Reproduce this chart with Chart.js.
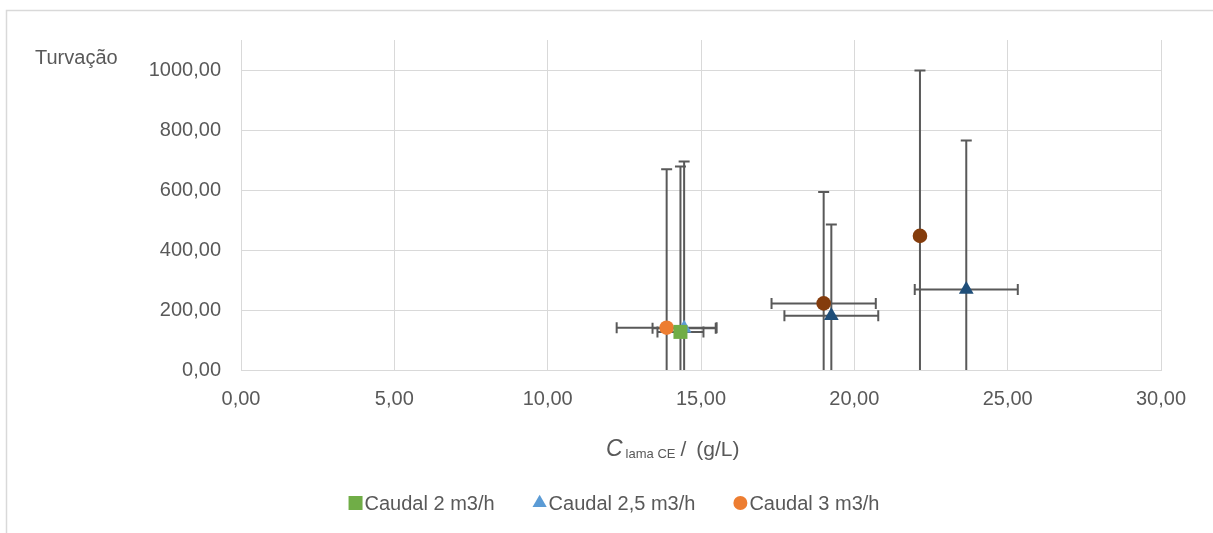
<!DOCTYPE html>
<html>
<head>
<meta charset="utf-8">
<script src="https://cdn.jsdelivr.net/npm/chart.js@4.4.1/dist/chart.umd.min.js"></script>
<style>
  html, body { margin: 0; padding: 0; background: #fff; }
</style>
</head>
<body>
<canvas id="chart-turvacao" width="1213" height="533"></canvas>
<script>
// series shown in the legend
const seriesNames = ["Caudal 2 m3/h", "Caudal 2,5 m3/h", "Caudal 3 m3/h"];

// Caudal 2 m3/h
const caudal2X = [14.33];
const caudal2Y = [127];
const caudal2ErrX = [0.75];
const caudal2ErrY = [551];

// Caudal 2,5 m3/h (first point light, others dark)
const caudal25X = [14.45, 19.25, 23.65];
const caudal25Y = [139, 181, 268];
const caudal25ErrX = [1.03, 1.53, 1.68];
const caudal25ErrY = [556, 304, 497];

// Caudal 3 m3/h (first point light, others dark)
const caudal3X = [13.88, 19.0, 22.14];
const caudal3Y = [141, 222, 447];
const caudal3ErrX = [1.63, 1.7, 0];
const caudal3ErrY = [528, 371, 551];

const xTicks = [0, 5, 10, 15, 20, 25, 30];
const yTicks = [0, 200, 400, 600, 800, 1000];

const GREEN = "#70AD47";
const BLUE = "#5B9BD5";
const ORANGE = "#ED7D31";
const DARK_BLUE = "#1F4E79";
const BROWN = "#843C0C";
const TEXT = "#595959";
const GRID = "#d9d9d9";
const FONT = "'Liberation Sans', Arial, sans-serif";

const ctx = document.getElementById("chart-turvacao").getContext("2d");

function points(xs, ys) {
  return xs.map(function (x, i) {
    return { x: x, y: ys[i] };
  });
}

function fmt(value) {
  return Number(value).toFixed(2).replace(".", ",");
}

// error bars, drawn under the markers
const errorBars = {
  id: "errorBars",
  beforeDatasetsDraw(chart) {
    const { ctx, chartArea, scales } = chart;
    const cap = 5.5;
    ctx.save();
    ctx.beginPath();
    ctx.rect(chartArea.left, chartArea.top, chartArea.width, chartArea.height);
    ctx.clip();
    ctx.strokeStyle = TEXT;
    ctx.lineWidth = 2;
    chart.data.datasets.forEach(function (ds) {
      ds.data.forEach(function (p, i) {
        const px = scales.x.getPixelForValue(p.x);
        const py = scales.y.getPixelForValue(p.y);
        const ex = ds.errX[i];
        const ey = ds.errY[i];
        ctx.beginPath();
        if (ey) {
          const top = scales.y.getPixelForValue(p.y + ey);
          const bottom = scales.y.getPixelForValue(p.y - ey);
          ctx.moveTo(px, top);
          ctx.lineTo(px, bottom);
          ctx.moveTo(px - cap, top);
          ctx.lineTo(px + cap, top);
          ctx.moveTo(px - cap, bottom);
          ctx.lineTo(px + cap, bottom);
        }
        if (ex) {
          const left = scales.x.getPixelForValue(p.x - ex);
          const right = scales.x.getPixelForValue(p.x + ex);
          ctx.moveTo(left, py);
          ctx.lineTo(right, py);
          ctx.moveTo(left, py - cap);
          ctx.lineTo(left, py + cap);
          ctx.moveTo(right, py - cap);
          ctx.lineTo(right, py + cap);
        }
        ctx.stroke();
      });
    });
    ctx.restore();
  },
};

// frame, axis titles and legend
const decorations = {
  id: "decorations",
  beforeDraw(chart) {
    const c = chart.ctx;
    c.save();
    c.fillStyle = "#fff";
    c.fillRect(0, 0, chart.width, chart.height);
    c.strokeStyle = GRID;
    c.lineWidth = 1.5;
    c.beginPath();
    c.moveTo(6.5, chart.height);
    c.lineTo(6.5, 10.5);
    c.lineTo(chart.width, 10.5);
    c.stroke();
    c.restore();
  },
  afterDraw(chart) {
    const c = chart.ctx;
    c.save();
    c.fillStyle = TEXT;
    c.textBaseline = "alphabetic";
    c.textAlign = "left";

    // y title
    c.font = "20px " + FONT;
    c.fillText("Turvação", 35, 64);

    // x title: C lama CE / (g/L)
    let x = 606;
    const base = 456;
    c.font = "italic 23px " + FONT;
    c.fillText("C", x, base);
    x += c.measureText("C").width + 3;
    c.font = "13px " + FONT;
    c.fillText("lama CE", x, base + 2);
    x += c.measureText("lama CE").width + 5;
    c.font = "21px " + FONT;
    c.fillText("/", x, base);
    x += c.measureText("/").width + 10;
    c.fillText("(g/L)", x, base);

    // legend
    const items = [
      { text: seriesNames[0], style: "rect", radius: 9.9, color: GREEN },
      { text: seriesNames[1], style: "triangle", radius: 8.2, color: BLUE },
      { text: seriesNames[2], style: "circle", radius: 7, color: ORANGE },
    ];
    c.font = "20px " + FONT;
    const widths = items.map(function (it) {
      return 16 + c.measureText(it.text).width;
    });
    const gap = 38;
    const total = widths.reduce((a, b) => a + b, 0) + gap * (items.length - 1);
    let lx = 614 - total / 2;
    const ly = 503;
    items.forEach(function (it, i) {
      c.fillStyle = it.color;
      Chart.helpers.drawPoint(c, { pointStyle: it.style, radius: it.radius, rotation: 0, borderWidth: 0 }, lx + 7, ly);
      c.fillStyle = TEXT;
      c.textBaseline = "middle";
      c.fillText(it.text, lx + 16, ly + 1);
      lx += widths[i] + gap;
    });
    c.restore();
  },
};

function createChart() {
  return new Chart(ctx, {
    type: "scatter",
    data: {
      datasets: [
        {
          label: seriesNames[0],
          data: points(caudal2X, caudal2Y),
          errX: caudal2ErrX,
          errY: caudal2ErrY,
          pointStyle: "rect",
          pointRadius: 9.9,
          pointBackgroundColor: GREEN,
          pointBorderWidth: 0,
        },
        {
          label: seriesNames[1],
          data: points(caudal25X, caudal25Y),
          errX: caudal25ErrX,
          errY: caudal25ErrY,
          pointStyle: "triangle",
          pointRadius: 8.5,
          pointBackgroundColor: [BLUE, DARK_BLUE, DARK_BLUE],
          pointBorderWidth: 0,
        },
        {
          label: seriesNames[2],
          data: points(caudal3X, caudal3Y),
          errX: caudal3ErrX,
          errY: caudal3ErrY,
          pointStyle: "circle",
          pointRadius: 7.3,
          pointBackgroundColor: [ORANGE, BROWN, BROWN],
          pointBorderWidth: 0,
        },
      ],
    },
    options: {
      responsive: false,
      animation: false,
      devicePixelRatio: 1,
      layout: {
        padding: { left: 0, right: 52, top: 40, bottom: 0 },
      },
      plugins: {
        legend: { display: false },
        tooltip: { enabled: false },
      },
      scales: {
        x: {
          type: "linear",
          min: 0,
          max: 30,
          afterBuildTicks: (axis) => {
            axis.ticks = xTicks.map((v) => ({ value: v }));
          },
          afterFit: (axis) => {
            axis.height = 163;
          },
          ticks: {
            padding: 17,
            maxRotation: 0,
            autoSkip: false,
            callback: fmt,
          },
          grid: { color: GRID, drawTicks: false },
          border: { color: GRID },
        },
        y: {
          min: 0,
          max: 1100,
          afterBuildTicks: (axis) => {
            axis.ticks = yTicks.map((v) => ({ value: v }));
          },
          afterFit: (axis) => {
            axis.width = 241;
          },
          ticks: {
            padding: 20,
            callback: fmt,
          },
          grid: { color: GRID, drawTicks: false },
          border: { color: GRID },
        },
      },
    },
    plugins: [errorBars, decorations],
  });
}

Chart.defaults.font.family = FONT;
Chart.defaults.font.size = 20;
Chart.defaults.color = TEXT;

window.addEventListener("load", createChart);
</script>
</body>
</html>
